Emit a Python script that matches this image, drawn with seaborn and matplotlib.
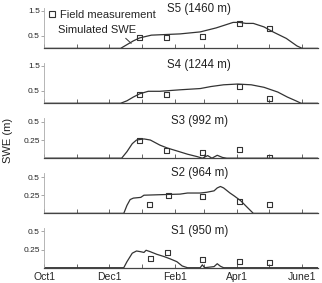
import matplotlib
matplotlib.use("Agg")
import matplotlib.pyplot as plt
import seaborn as sns
from matplotlib.lines import Line2D

# days counted from Oct 1
month_days = [0, 31, 61, 92, 123, 151, 182, 212, 243]
month_labels = ["Oct1", "", "Dec1", "", "Feb1", "", "Apr1", "", "June1"]

sites = ["S5 (1460 m)", "S4 (1244 m)", "S3 (992 m)", "S2 (964 m)", "S1 (950 m)"]

# field measurements
obs_days = {
    "S5": [90, 115, 149, 184, 212],
    "S4": [90, 115, 184, 212],
    "S3": [90, 115, 149, 184, 212],
    "S2": [99, 117, 149, 184, 212],
    "S1": [100, 116, 149, 184, 212],
}
obs_swe = {
    "S5": [0.43, 0.45, 0.47, 0.98, 0.81],
    "S4": [0.36, 0.36, 0.68, 0.2],
    "S3": [0.25, 0.105, 0.083, 0.12, 0.01],
    "S2": [0.12, 0.25, 0.235, 0.165, 0.12],
    "S1": [0.13, 0.21, 0.107, 0.083, 0.065],
}

# simulated SWE
sim_days = {
    "S5": [0, 72, 78, 84, 90, 101, 128, 147, 162, 178, 184, 190, 197, 207, 216, 228, 238, 243, 258],
    "S4": [0, 72, 78, 84, 90, 98, 109, 128, 147, 157, 169, 182, 195, 207, 220, 229, 237, 242, 258],
    "S3": [0, 73, 78, 83, 87, 94, 100, 109, 116, 125, 135, 144, 149, 154, 158, 163, 168, 172, 258],
    "S2": [0, 75, 78, 81, 84, 91, 94, 116, 128, 135, 147, 153, 160, 163, 166, 169, 175, 179, 185, 191, 197, 258],
    "S1": [0, 75, 78, 83, 87, 91, 94, 96, 100, 106, 113, 119, 125, 130, 135, 147, 149, 151, 160, 163, 166, 169, 258],
}
sim_swe = {
    "S5": [0, 0, 0.15, 0.3, 0.42, 0.53, 0.58, 0.66, 0.82, 1.04, 1.04, 1.0, 1.0, 0.86, 0.65, 0.4, 0.1, 0, 0],
    "S4": [0, 0, 0.1, 0.25, 0.38, 0.48, 0.48, 0.54, 0.59, 0.67, 0.74, 0.77, 0.74, 0.64, 0.45, 0.25, 0.1, 0, 0],
    "S3": [0, 0, 0.09, 0.2, 0.25, 0.265, 0.25, 0.18, 0.14, 0.1, 0.055, 0.022, 0, 0.036, 0.0, 0.04, 0.01, 0, 0],
    "S2": [0, 0, 0.11, 0.19, 0.21, 0.22, 0.25, 0.26, 0.265, 0.28, 0.28, 0.29, 0.31, 0.35, 0.37, 0.35, 0.28, 0.24, 0.175, 0.087, 0, 0],
    "S1": [0, 0, 0.083, 0.2, 0.23, 0.22, 0.21, 0.24, 0.22, 0.185, 0.153, 0.12, 0.083, 0.024, 0, 0, 0.04, 0, 0.015, 0.055, 0.02, 0, 0],
}

sns.set_style("white")
plt.rcParams['font.family'] = ['Liberation Sans', 'DejaVu Sans']

fig = plt.figure(figsize=(3.22, 2.83), dpi=100)

dark = "#333333"
bottoms = [0.829, 0.635, 0.441, 0.246, 0.054]
title_y = [0.99, 0.96, 0.93, 1.0, 0.91]
keys = ["S5", "S4", "S3", "S2", "S1"]

for i, key in enumerate(keys):
    ax = fig.add_axes([0.137, bottoms[i], 0.851, 0.1413])
    sns.lineplot(x=sim_days[key], y=sim_swe[key], ax=ax, color=dark, lw=0.9)
    sns.scatterplot(x=obs_days[key], y=obs_swe[key], ax=ax, marker="s", s=13,
                    facecolor="none", edgecolor=dark, linewidth=0.8, zorder=3)
    ax.set_xlim(0, 258)
    if i < 2:
        ax.set_ylim(0, 1.6)
        ax.set_yticks([0.5, 1.5])
        ax.set_yticklabels(["0.5", "1.5"])
    else:
        ax.set_ylim(0, 0.55)
        ax.set_yticks([0.25, 0.5])
        ax.set_yticklabels(["0.25", "0.5"])
    ax.set_xticks(month_days)
    if i == 4:
        ax.set_xticklabels(month_labels, fontsize=7.5)
    else:
        ax.set_xticklabels([])
    ax.tick_params(axis="x", direction="in", length=3, width=0.7, color="#666666", pad=3,
                   bottom=True)
    ax.tick_params(axis="y", direction="out", length=2, width=0.6, color="#999999",
                   labelsize=6, pad=1, left=True)
    ax.spines["top"].set_visible(False)
    ax.spines["right"].set_visible(False)
    ax.spines["left"].set_color("#aaaaaa")
    ax.spines["left"].set_linewidth(0.6)
    ax.spines["bottom"].set_color("#444444")
    ax.spines["bottom"].set_linewidth(0.9)
    ax.set_xlabel("")
    ax.set_ylabel("")
    ax.text(0.566, title_y[i], sites[i], transform=ax.transAxes, ha="center",
            va="center", fontsize=8.3, color="#222222")

    if i == 0:
        handle = Line2D([], [], marker="s", ls="none", markersize=4.2,
                        markerfacecolor="none", markeredgecolor=dark, markeredgewidth=0.8)
        ax.legend([handle], ["Field measurement"], loc="center left",
                  bbox_to_anchor=(0.016, 0.83), frameon=False, fontsize=8,
                  handlelength=0.6, handletextpad=0.45, borderpad=0, borderaxespad=0)
        ax.annotate("Simulated SWE", xy=(82, 0.2), xytext=(0.051, 0.46),
                    textcoords="axes fraction", va="center", ha="left", fontsize=8,
                    color="#222222",
                    arrowprops=dict(arrowstyle="-", color=dark, lw=0.7,
                                    shrinkA=0, shrinkB=0, relpos=(0.82, 0)))

fig.text(8 / 322, 1 - 140 / 283, "SWE (m)", rotation=90, ha="center", va="center",
         fontsize=8, color="#222222")

fig.savefig("out.png", dpi=100)
